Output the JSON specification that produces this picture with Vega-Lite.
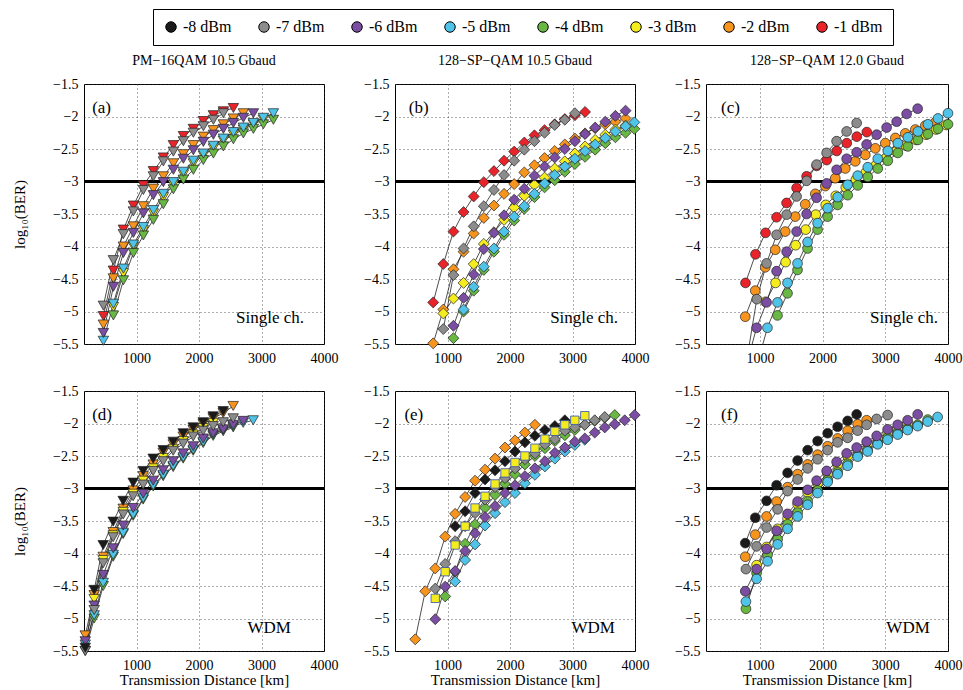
{
"$schema": "https://vega.github.io/schema/vega-lite/v6.json",
"background": "white",
"padding": {"left": 12, "top": 8, "right": 5, "bottom": 5},
"config": {
  "font": "Liberation Serif",
  "view": {"stroke": "black", "strokeWidth": 1},
  "axis": {"labelFont": "Liberation Serif", "labelFontSize": 14, "labelColor": "black", "titleFont": "Liberation Serif", "titleFontWeight": "normal", "titleFontSize": 15, "titleColor": "black", "domain": false, "ticks": false, "gridColor": "#333", "gridDash": [1, 3], "gridWidth": 0.8, "gridOpacity": 1, "labelFlush": false, "labelOverlap": false},
  "axisX": {"labelPadding": 7, "tickCount": 10},
  "axisY": {"labelPadding": 6, "labelOverlap": false, "tickCount": 20},
  "legend": {"labelFont": "Liberation Serif", "labelFontSize": 16, "labelColor": "black"},
  "title": {"font": "Liberation Serif", "fontSize": 14, "fontWeight": "normal", "offset": 9, "anchor": "middle", "color": "black"}
},
"data": {"values": [
{"p":"a","s":"-1 dBm","x":470,"y":-5.07},{"p":"a","s":"-1 dBm","x":630,"y":-4.37},{"p":"a","s":"-1 dBm","x":790,"y":-3.74},{"p":"a","s":"-1 dBm","x":950,"y":-3.37},{"p":"a","s":"-1 dBm","x":1110,"y":-3.06},{"p":"a","s":"-1 dBm","x":1270,"y":-2.84},{"p":"a","s":"-1 dBm","x":1430,"y":-2.63},{"p":"a","s":"-1 dBm","x":1590,"y":-2.44},{"p":"a","s":"-1 dBm","x":1750,"y":-2.30},{"p":"a","s":"-1 dBm","x":1910,"y":-2.19},{"p":"a","s":"-1 dBm","x":2070,"y":-2.07},{"p":"a","s":"-1 dBm","x":2230,"y":-1.98},{"p":"a","s":"-1 dBm","x":2390,"y":-1.92},{"p":"a","s":"-1 dBm","x":2550,"y":-1.87},
{"p":"a","s":"-2 dBm","x":470,"y":-5.20},{"p":"a","s":"-2 dBm","x":630,"y":-4.49},{"p":"a","s":"-2 dBm","x":790,"y":-4.00},{"p":"a","s":"-2 dBm","x":950,"y":-3.69},{"p":"a","s":"-2 dBm","x":1110,"y":-3.38},{"p":"a","s":"-2 dBm","x":1270,"y":-3.11},{"p":"a","s":"-2 dBm","x":1430,"y":-2.92},{"p":"a","s":"-2 dBm","x":1590,"y":-2.72},{"p":"a","s":"-2 dBm","x":1750,"y":-2.58},{"p":"a","s":"-2 dBm","x":1910,"y":-2.44},{"p":"a","s":"-2 dBm","x":2070,"y":-2.31},{"p":"a","s":"-2 dBm","x":2230,"y":-2.21},{"p":"a","s":"-2 dBm","x":2390,"y":-2.12},{"p":"a","s":"-2 dBm","x":2550,"y":-2.03},{"p":"a","s":"-2 dBm","x":2710,"y":-1.95},
{"p":"a","s":"-3 dBm","x":630,"y":-4.93},{"p":"a","s":"-3 dBm","x":790,"y":-4.41},{"p":"a","s":"-3 dBm","x":950,"y":-4.00},{"p":"a","s":"-3 dBm","x":1110,"y":-3.75},{"p":"a","s":"-3 dBm","x":1270,"y":-3.49},{"p":"a","s":"-3 dBm","x":1430,"y":-3.24},{"p":"a","s":"-3 dBm","x":1590,"y":-3.05},{"p":"a","s":"-3 dBm","x":1750,"y":-2.89},{"p":"a","s":"-3 dBm","x":1910,"y":-2.72},{"p":"a","s":"-3 dBm","x":2070,"y":-2.60},{"p":"a","s":"-3 dBm","x":2230,"y":-2.49},{"p":"a","s":"-3 dBm","x":2390,"y":-2.37},{"p":"a","s":"-3 dBm","x":2550,"y":-2.28},{"p":"a","s":"-3 dBm","x":2710,"y":-2.20},{"p":"a","s":"-3 dBm","x":2870,"y":-2.12},{"p":"a","s":"-3 dBm","x":3030,"y":-2.05},
{"p":"a","s":"-4 dBm","x":630,"y":-5.06},{"p":"a","s":"-4 dBm","x":790,"y":-4.52},{"p":"a","s":"-4 dBm","x":950,"y":-4.10},{"p":"a","s":"-4 dBm","x":1110,"y":-3.83},{"p":"a","s":"-4 dBm","x":1270,"y":-3.59},{"p":"a","s":"-4 dBm","x":1430,"y":-3.35},{"p":"a","s":"-4 dBm","x":1590,"y":-3.12},{"p":"a","s":"-4 dBm","x":1750,"y":-2.97},{"p":"a","s":"-4 dBm","x":1910,"y":-2.82},{"p":"a","s":"-4 dBm","x":2070,"y":-2.67},{"p":"a","s":"-4 dBm","x":2230,"y":-2.57},{"p":"a","s":"-4 dBm","x":2390,"y":-2.46},{"p":"a","s":"-4 dBm","x":2550,"y":-2.35},{"p":"a","s":"-4 dBm","x":2710,"y":-2.26},{"p":"a","s":"-4 dBm","x":2870,"y":-2.19},{"p":"a","s":"-4 dBm","x":3030,"y":-2.12},{"p":"a","s":"-4 dBm","x":3190,"y":-2.05},
{"p":"a","s":"-5 dBm","x":470,"y":-5.45},{"p":"a","s":"-5 dBm","x":630,"y":-4.88},{"p":"a","s":"-5 dBm","x":790,"y":-4.34},{"p":"a","s":"-5 dBm","x":950,"y":-3.97},{"p":"a","s":"-5 dBm","x":1110,"y":-3.70},{"p":"a","s":"-5 dBm","x":1270,"y":-3.44},{"p":"a","s":"-5 dBm","x":1430,"y":-3.19},{"p":"a","s":"-5 dBm","x":1590,"y":-3.01},{"p":"a","s":"-5 dBm","x":1750,"y":-2.85},{"p":"a","s":"-5 dBm","x":1910,"y":-2.68},{"p":"a","s":"-5 dBm","x":2070,"y":-2.57},{"p":"a","s":"-5 dBm","x":2230,"y":-2.45},{"p":"a","s":"-5 dBm","x":2390,"y":-2.34},{"p":"a","s":"-5 dBm","x":2550,"y":-2.24},{"p":"a","s":"-5 dBm","x":2710,"y":-2.17},{"p":"a","s":"-5 dBm","x":2870,"y":-2.10},{"p":"a","s":"-5 dBm","x":3030,"y":-2.02},{"p":"a","s":"-5 dBm","x":3190,"y":-1.95},
{"p":"a","s":"-6 dBm","x":470,"y":-5.33},{"p":"a","s":"-6 dBm","x":630,"y":-4.62},{"p":"a","s":"-6 dBm","x":790,"y":-4.10},{"p":"a","s":"-6 dBm","x":950,"y":-3.79},{"p":"a","s":"-6 dBm","x":1110,"y":-3.49},{"p":"a","s":"-6 dBm","x":1270,"y":-3.21},{"p":"a","s":"-6 dBm","x":1430,"y":-3.01},{"p":"a","s":"-6 dBm","x":1590,"y":-2.82},{"p":"a","s":"-6 dBm","x":1750,"y":-2.65},{"p":"a","s":"-6 dBm","x":1910,"y":-2.52},{"p":"a","s":"-6 dBm","x":2070,"y":-2.39},{"p":"a","s":"-6 dBm","x":2230,"y":-2.28},{"p":"a","s":"-6 dBm","x":2390,"y":-2.19},{"p":"a","s":"-6 dBm","x":2550,"y":-2.10},{"p":"a","s":"-6 dBm","x":2710,"y":-2.02},{"p":"a","s":"-6 dBm","x":2870,"y":-1.95},
{"p":"a","s":"-7 dBm","x":470,"y":-4.91},{"p":"a","s":"-7 dBm","x":630,"y":-4.21},{"p":"a","s":"-7 dBm","x":790,"y":-3.81},{"p":"a","s":"-7 dBm","x":950,"y":-3.46},{"p":"a","s":"-7 dBm","x":1110,"y":-3.13},{"p":"a","s":"-7 dBm","x":1270,"y":-2.92},{"p":"a","s":"-7 dBm","x":1430,"y":-2.69},{"p":"a","s":"-7 dBm","x":1590,"y":-2.54},{"p":"a","s":"-7 dBm","x":1750,"y":-2.38},{"p":"a","s":"-7 dBm","x":1910,"y":-2.25},{"p":"a","s":"-7 dBm","x":2070,"y":-2.15},{"p":"a","s":"-7 dBm","x":2230,"y":-2.05},{"p":"a","s":"-7 dBm","x":2390,"y":-1.95},

{"p":"b","s":"-1 dBm","x":771,"y":-4.86},{"p":"b","s":"-1 dBm","x":933,"y":-4.27},{"p":"b","s":"-1 dBm","x":1095,"y":-3.77},{"p":"b","s":"-1 dBm","x":1257,"y":-3.47},{"p":"b","s":"-1 dBm","x":1419,"y":-3.23},{"p":"b","s":"-1 dBm","x":1581,"y":-3.01},{"p":"b","s":"-1 dBm","x":1743,"y":-2.84},{"p":"b","s":"-1 dBm","x":1905,"y":-2.68},{"p":"b","s":"-1 dBm","x":2067,"y":-2.54},{"p":"b","s":"-1 dBm","x":2229,"y":-2.40},{"p":"b","s":"-1 dBm","x":2391,"y":-2.29},{"p":"b","s":"-1 dBm","x":2553,"y":-2.21},{"p":"b","s":"-1 dBm","x":2715,"y":-2.12},{"p":"b","s":"-1 dBm","x":2877,"y":-2.04},{"p":"b","s":"-1 dBm","x":3039,"y":-1.98},{"p":"b","s":"-1 dBm","x":3201,"y":-1.93},
{"p":"b","s":"-2 dBm","x":771,"y":-5.49},{"p":"b","s":"-2 dBm","x":933,"y":-4.97},{"p":"b","s":"-2 dBm","x":1095,"y":-4.35},{"p":"b","s":"-2 dBm","x":1257,"y":-4.08},{"p":"b","s":"-2 dBm","x":1419,"y":-3.80},{"p":"b","s":"-2 dBm","x":1581,"y":-3.56},{"p":"b","s":"-2 dBm","x":1743,"y":-3.37},{"p":"b","s":"-2 dBm","x":1905,"y":-3.19},{"p":"b","s":"-2 dBm","x":2067,"y":-3.04},{"p":"b","s":"-2 dBm","x":2229,"y":-2.86},{"p":"b","s":"-2 dBm","x":2391,"y":-2.75},{"p":"b","s":"-2 dBm","x":2553,"y":-2.64},{"p":"b","s":"-2 dBm","x":2715,"y":-2.53},{"p":"b","s":"-2 dBm","x":2877,"y":-2.43},{"p":"b","s":"-2 dBm","x":3039,"y":-2.34},{"p":"b","s":"-2 dBm","x":3201,"y":-2.26},{"p":"b","s":"-2 dBm","x":3363,"y":-2.18},{"p":"b","s":"-2 dBm","x":3525,"y":-2.12},{"p":"b","s":"-2 dBm","x":3687,"y":-2.08},{"p":"b","s":"-2 dBm","x":3849,"y":-2.03},
{"p":"b","s":"-3 dBm","x":933,"y":-5.03},{"p":"b","s":"-3 dBm","x":1095,"y":-4.80},{"p":"b","s":"-3 dBm","x":1257,"y":-4.56},{"p":"b","s":"-3 dBm","x":1419,"y":-4.27},{"p":"b","s":"-3 dBm","x":1581,"y":-3.96},{"p":"b","s":"-3 dBm","x":1743,"y":-3.78},{"p":"b","s":"-3 dBm","x":1905,"y":-3.59},{"p":"b","s":"-3 dBm","x":2067,"y":-3.40},{"p":"b","s":"-3 dBm","x":2229,"y":-3.22},{"p":"b","s":"-3 dBm","x":2391,"y":-3.05},{"p":"b","s":"-3 dBm","x":2553,"y":-2.94},{"p":"b","s":"-3 dBm","x":2715,"y":-2.80},{"p":"b","s":"-3 dBm","x":2877,"y":-2.69},{"p":"b","s":"-3 dBm","x":3039,"y":-2.57},{"p":"b","s":"-3 dBm","x":3201,"y":-2.46},{"p":"b","s":"-3 dBm","x":3363,"y":-2.36},{"p":"b","s":"-3 dBm","x":3525,"y":-2.28},{"p":"b","s":"-3 dBm","x":3687,"y":-2.20},{"p":"b","s":"-3 dBm","x":3849,"y":-2.14},
{"p":"b","s":"-4 dBm","x":1095,"y":-5.41},{"p":"b","s":"-4 dBm","x":1257,"y":-5.00},{"p":"b","s":"-4 dBm","x":1419,"y":-4.68},{"p":"b","s":"-4 dBm","x":1581,"y":-4.36},{"p":"b","s":"-4 dBm","x":1743,"y":-4.08},{"p":"b","s":"-4 dBm","x":1905,"y":-3.82},{"p":"b","s":"-4 dBm","x":2067,"y":-3.60},{"p":"b","s":"-4 dBm","x":2229,"y":-3.42},{"p":"b","s":"-4 dBm","x":2391,"y":-3.24},{"p":"b","s":"-4 dBm","x":2553,"y":-3.09},{"p":"b","s":"-4 dBm","x":2715,"y":-2.98},{"p":"b","s":"-4 dBm","x":2877,"y":-2.85},{"p":"b","s":"-4 dBm","x":3039,"y":-2.73},{"p":"b","s":"-4 dBm","x":3201,"y":-2.62},{"p":"b","s":"-4 dBm","x":3363,"y":-2.51},{"p":"b","s":"-4 dBm","x":3525,"y":-2.41},{"p":"b","s":"-4 dBm","x":3687,"y":-2.32},{"p":"b","s":"-4 dBm","x":3849,"y":-2.25},{"p":"b","s":"-4 dBm","x":3990,"y":-2.19},
{"p":"b","s":"-5 dBm","x":1257,"y":-4.97},{"p":"b","s":"-5 dBm","x":1419,"y":-4.62},{"p":"b","s":"-5 dBm","x":1581,"y":-4.31},{"p":"b","s":"-5 dBm","x":1743,"y":-4.03},{"p":"b","s":"-5 dBm","x":1905,"y":-3.77},{"p":"b","s":"-5 dBm","x":2067,"y":-3.54},{"p":"b","s":"-5 dBm","x":2229,"y":-3.38},{"p":"b","s":"-5 dBm","x":2391,"y":-3.19},{"p":"b","s":"-5 dBm","x":2553,"y":-3.03},{"p":"b","s":"-5 dBm","x":2715,"y":-2.90},{"p":"b","s":"-5 dBm","x":2877,"y":-2.77},{"p":"b","s":"-5 dBm","x":3039,"y":-2.65},{"p":"b","s":"-5 dBm","x":3201,"y":-2.53},{"p":"b","s":"-5 dBm","x":3363,"y":-2.43},{"p":"b","s":"-5 dBm","x":3525,"y":-2.33},{"p":"b","s":"-5 dBm","x":3687,"y":-2.23},{"p":"b","s":"-5 dBm","x":3849,"y":-2.15},{"p":"b","s":"-5 dBm","x":3990,"y":-2.09},
{"p":"b","s":"-6 dBm","x":1095,"y":-5.22},{"p":"b","s":"-6 dBm","x":1257,"y":-4.79},{"p":"b","s":"-6 dBm","x":1419,"y":-4.43},{"p":"b","s":"-6 dBm","x":1581,"y":-4.04},{"p":"b","s":"-6 dBm","x":1743,"y":-3.79},{"p":"b","s":"-6 dBm","x":1905,"y":-3.52},{"p":"b","s":"-6 dBm","x":2067,"y":-3.28},{"p":"b","s":"-6 dBm","x":2229,"y":-3.11},{"p":"b","s":"-6 dBm","x":2391,"y":-2.91},{"p":"b","s":"-6 dBm","x":2553,"y":-2.77},{"p":"b","s":"-6 dBm","x":2715,"y":-2.63},{"p":"b","s":"-6 dBm","x":2877,"y":-2.50},{"p":"b","s":"-6 dBm","x":3039,"y":-2.38},{"p":"b","s":"-6 dBm","x":3201,"y":-2.27},{"p":"b","s":"-6 dBm","x":3363,"y":-2.17},{"p":"b","s":"-6 dBm","x":3525,"y":-2.08},{"p":"b","s":"-6 dBm","x":3687,"y":-1.99},{"p":"b","s":"-6 dBm","x":3849,"y":-1.91},
{"p":"b","s":"-7 dBm","x":933,"y":-5.27},{"p":"b","s":"-7 dBm","x":1095,"y":-4.44},{"p":"b","s":"-7 dBm","x":1257,"y":-4.03},{"p":"b","s":"-7 dBm","x":1419,"y":-3.69},{"p":"b","s":"-7 dBm","x":1581,"y":-3.38},{"p":"b","s":"-7 dBm","x":1743,"y":-3.13},{"p":"b","s":"-7 dBm","x":1905,"y":-2.90},{"p":"b","s":"-7 dBm","x":2067,"y":-2.68},{"p":"b","s":"-7 dBm","x":2229,"y":-2.51},{"p":"b","s":"-7 dBm","x":2391,"y":-2.38},{"p":"b","s":"-7 dBm","x":2553,"y":-2.25},{"p":"b","s":"-7 dBm","x":2715,"y":-2.13},{"p":"b","s":"-7 dBm","x":2877,"y":-2.05},{"p":"b","s":"-7 dBm","x":3039,"y":-1.95},

{"p":"c","s":"-1 dBm","x":770,"y":-4.56},{"p":"c","s":"-1 dBm","x":930,"y":-4.12},{"p":"c","s":"-1 dBm","x":1090,"y":-3.79},{"p":"c","s":"-1 dBm","x":1265,"y":-3.55},{"p":"c","s":"-1 dBm","x":1425,"y":-3.33},{"p":"c","s":"-1 dBm","x":1585,"y":-3.10},{"p":"c","s":"-1 dBm","x":1745,"y":-2.92},{"p":"c","s":"-1 dBm","x":1905,"y":-2.76},{"p":"c","s":"-1 dBm","x":2065,"y":-2.67},{"p":"c","s":"-1 dBm","x":2225,"y":-2.53},{"p":"c","s":"-1 dBm","x":2385,"y":-2.41},{"p":"c","s":"-1 dBm","x":2545,"y":-2.31},{"p":"c","s":"-1 dBm","x":2705,"y":-2.24},
{"p":"c","s":"-2 dBm","x":766,"y":-5.08},{"p":"c","s":"-2 dBm","x":926,"y":-4.68},{"p":"c","s":"-2 dBm","x":1085,"y":-4.32},{"p":"c","s":"-2 dBm","x":1245,"y":-4.05},{"p":"c","s":"-2 dBm","x":1404,"y":-3.77},{"p":"c","s":"-2 dBm","x":1564,"y":-3.54},{"p":"c","s":"-2 dBm","x":1723,"y":-3.35},{"p":"c","s":"-2 dBm","x":1883,"y":-3.19},{"p":"c","s":"-2 dBm","x":2043,"y":-3.07},{"p":"c","s":"-2 dBm","x":2202,"y":-2.95},{"p":"c","s":"-2 dBm","x":2362,"y":-2.80},{"p":"c","s":"-2 dBm","x":2521,"y":-2.69},{"p":"c","s":"-2 dBm","x":2681,"y":-2.59},{"p":"c","s":"-2 dBm","x":2841,"y":-2.49},{"p":"c","s":"-2 dBm","x":3000,"y":-2.41},{"p":"c","s":"-2 dBm","x":3160,"y":-2.33},{"p":"c","s":"-2 dBm","x":3319,"y":-2.26},{"p":"c","s":"-2 dBm","x":3479,"y":-2.20},{"p":"c","s":"-2 dBm","x":3638,"y":-2.14},{"p":"c","s":"-2 dBm","x":3798,"y":-2.09},
{"p":"c","s":"-3 dBm","x":1090,"y":-4.85},{"p":"c","s":"-3 dBm","x":1250,"y":-4.56},{"p":"c","s":"-3 dBm","x":1410,"y":-4.24},{"p":"c","s":"-3 dBm","x":1570,"y":-3.98},{"p":"c","s":"-3 dBm","x":1730,"y":-3.74},{"p":"c","s":"-3 dBm","x":1890,"y":-3.51},{"p":"c","s":"-3 dBm","x":2050,"y":-3.36},{"p":"c","s":"-3 dBm","x":2210,"y":-3.22},{"p":"c","s":"-3 dBm","x":2370,"y":-3.09},{"p":"c","s":"-3 dBm","x":2530,"y":-2.97},{"p":"c","s":"-3 dBm","x":2690,"y":-2.86},{"p":"c","s":"-3 dBm","x":2850,"y":-2.75},{"p":"c","s":"-3 dBm","x":3010,"y":-2.64},{"p":"c","s":"-3 dBm","x":3170,"y":-2.54},{"p":"c","s":"-3 dBm","x":3330,"y":-2.45},{"p":"c","s":"-3 dBm","x":3490,"y":-2.36},{"p":"c","s":"-3 dBm","x":3650,"y":-2.28},{"p":"c","s":"-3 dBm","x":3810,"y":-2.20},{"p":"c","s":"-3 dBm","x":3970,"y":-2.13},
{"p":"c","s":"-4 dBm","x":1280,"y":-5.06},{"p":"c","s":"-4 dBm","x":1440,"y":-4.72},{"p":"c","s":"-4 dBm","x":1600,"y":-4.36},{"p":"c","s":"-4 dBm","x":1760,"y":-4.03},{"p":"c","s":"-4 dBm","x":1920,"y":-3.74},{"p":"c","s":"-4 dBm","x":2080,"y":-3.54},{"p":"c","s":"-4 dBm","x":2240,"y":-3.36},{"p":"c","s":"-4 dBm","x":2400,"y":-3.21},{"p":"c","s":"-4 dBm","x":2560,"y":-3.06},{"p":"c","s":"-4 dBm","x":2720,"y":-2.93},{"p":"c","s":"-4 dBm","x":2880,"y":-2.80},{"p":"c","s":"-4 dBm","x":3040,"y":-2.68},{"p":"c","s":"-4 dBm","x":3200,"y":-2.56},{"p":"c","s":"-4 dBm","x":3360,"y":-2.46},{"p":"c","s":"-4 dBm","x":3520,"y":-2.36},{"p":"c","s":"-4 dBm","x":3680,"y":-2.27},{"p":"c","s":"-4 dBm","x":3840,"y":-2.19},{"p":"c","s":"-4 dBm","x":4000,"y":-2.12},
{"p":"c","s":"-5 dBm","x":960,"y":-5.8},{"p":"c","s":"-5 dBm","x":1120,"y":-5.25},{"p":"c","s":"-5 dBm","x":1280,"y":-4.86},{"p":"c","s":"-5 dBm","x":1440,"y":-4.56},{"p":"c","s":"-5 dBm","x":1600,"y":-4.26},{"p":"c","s":"-5 dBm","x":1760,"y":-3.93},{"p":"c","s":"-5 dBm","x":1920,"y":-3.64},{"p":"c","s":"-5 dBm","x":2080,"y":-3.41},{"p":"c","s":"-5 dBm","x":2240,"y":-3.24},{"p":"c","s":"-5 dBm","x":2400,"y":-3.05},{"p":"c","s":"-5 dBm","x":2560,"y":-2.91},{"p":"c","s":"-5 dBm","x":2720,"y":-2.78},{"p":"c","s":"-5 dBm","x":2880,"y":-2.65},{"p":"c","s":"-5 dBm","x":3040,"y":-2.53},{"p":"c","s":"-5 dBm","x":3200,"y":-2.41},{"p":"c","s":"-5 dBm","x":3360,"y":-2.32},{"p":"c","s":"-5 dBm","x":3520,"y":-2.23},{"p":"c","s":"-5 dBm","x":3680,"y":-2.12},{"p":"c","s":"-5 dBm","x":3840,"y":-2.03},{"p":"c","s":"-5 dBm","x":4000,"y":-1.95},
{"p":"c","s":"-6 dBm","x":790,"y":-5.8},{"p":"c","s":"-6 dBm","x":947,"y":-5.25},{"p":"c","s":"-6 dBm","x":1106,"y":-4.86},{"p":"c","s":"-6 dBm","x":1266,"y":-4.38},{"p":"c","s":"-6 dBm","x":1426,"y":-4.08},{"p":"c","s":"-6 dBm","x":1585,"y":-3.77},{"p":"c","s":"-6 dBm","x":1745,"y":-3.50},{"p":"c","s":"-6 dBm","x":1904,"y":-3.25},{"p":"c","s":"-6 dBm","x":2064,"y":-3.03},{"p":"c","s":"-6 dBm","x":2223,"y":-2.82},{"p":"c","s":"-6 dBm","x":2383,"y":-2.65},{"p":"c","s":"-6 dBm","x":2543,"y":-2.55},{"p":"c","s":"-6 dBm","x":2702,"y":-2.43},{"p":"c","s":"-6 dBm","x":2862,"y":-2.28},{"p":"c","s":"-6 dBm","x":3021,"y":-2.17},{"p":"c","s":"-6 dBm","x":3181,"y":-2.08},{"p":"c","s":"-6 dBm","x":3340,"y":-1.96},{"p":"c","s":"-6 dBm","x":3516,"y":-1.88},
{"p":"c","s":"-7 dBm","x":790,"y":-5.75},{"p":"c","s":"-7 dBm","x":950,"y":-4.81},{"p":"c","s":"-7 dBm","x":1106,"y":-4.26},{"p":"c","s":"-7 dBm","x":1266,"y":-3.82},{"p":"c","s":"-7 dBm","x":1426,"y":-3.51},{"p":"c","s":"-7 dBm","x":1585,"y":-3.23},{"p":"c","s":"-7 dBm","x":1745,"y":-2.99},{"p":"c","s":"-7 dBm","x":1904,"y":-2.74},{"p":"c","s":"-7 dBm","x":2064,"y":-2.56},{"p":"c","s":"-7 dBm","x":2223,"y":-2.38},{"p":"c","s":"-7 dBm","x":2383,"y":-2.23},{"p":"c","s":"-7 dBm","x":2543,"y":-2.10},

{"p":"d","s":"-2 dBm","x":180,"y":-5.26},{"p":"d","s":"-2 dBm","x":323,"y":-4.64},{"p":"d","s":"-2 dBm","x":467,"y":-4.05},{"p":"d","s":"-2 dBm","x":627,"y":-3.67},{"p":"d","s":"-2 dBm","x":787,"y":-3.31},{"p":"d","s":"-2 dBm","x":947,"y":-3.03},{"p":"d","s":"-2 dBm","x":1107,"y":-2.81},{"p":"d","s":"-2 dBm","x":1267,"y":-2.63},{"p":"d","s":"-2 dBm","x":1427,"y":-2.45},{"p":"d","s":"-2 dBm","x":1587,"y":-2.32},{"p":"d","s":"-2 dBm","x":1747,"y":-2.20},{"p":"d","s":"-2 dBm","x":1907,"y":-2.10},{"p":"d","s":"-2 dBm","x":2067,"y":-2.01},{"p":"d","s":"-2 dBm","x":2227,"y":-1.92},{"p":"d","s":"-2 dBm","x":2387,"y":-1.84},{"p":"d","s":"-2 dBm","x":2547,"y":-1.73},
{"p":"d","s":"-3 dBm","x":323,"y":-4.70},{"p":"d","s":"-3 dBm","x":467,"y":-4.10},{"p":"d","s":"-3 dBm","x":627,"y":-3.72},{"p":"d","s":"-3 dBm","x":787,"y":-3.36},{"p":"d","s":"-3 dBm","x":947,"y":-3.08},{"p":"d","s":"-3 dBm","x":1107,"y":-2.88},{"p":"d","s":"-3 dBm","x":1267,"y":-2.69},{"p":"d","s":"-3 dBm","x":1427,"y":-2.53},{"p":"d","s":"-3 dBm","x":1587,"y":-2.39},{"p":"d","s":"-3 dBm","x":1747,"y":-2.27},{"p":"d","s":"-3 dBm","x":1907,"y":-2.17},{"p":"d","s":"-3 dBm","x":2067,"y":-2.07},{"p":"d","s":"-3 dBm","x":2227,"y":-1.99},
{"p":"d","s":"-4 dBm","x":180,"y":-5.50},{"p":"d","s":"-4 dBm","x":323,"y":-5.00},{"p":"d","s":"-4 dBm","x":467,"y":-4.50},{"p":"d","s":"-4 dBm","x":627,"y":-4.05},{"p":"d","s":"-4 dBm","x":787,"y":-3.70},{"p":"d","s":"-4 dBm","x":947,"y":-3.42},{"p":"d","s":"-4 dBm","x":1107,"y":-3.17},{"p":"d","s":"-4 dBm","x":1267,"y":-2.97},{"p":"d","s":"-4 dBm","x":1427,"y":-2.81},{"p":"d","s":"-4 dBm","x":1587,"y":-2.67},{"p":"d","s":"-4 dBm","x":1747,"y":-2.54},{"p":"d","s":"-4 dBm","x":1907,"y":-2.42},{"p":"d","s":"-4 dBm","x":2067,"y":-2.30},{"p":"d","s":"-4 dBm","x":2227,"y":-2.19},{"p":"d","s":"-4 dBm","x":2387,"y":-2.12},{"p":"d","s":"-4 dBm","x":2547,"y":-2.06},
{"p":"d","s":"-5 dBm","x":180,"y":-5.40},{"p":"d","s":"-5 dBm","x":323,"y":-4.95},{"p":"d","s":"-5 dBm","x":467,"y":-4.45},{"p":"d","s":"-5 dBm","x":627,"y":-4.02},{"p":"d","s":"-5 dBm","x":787,"y":-3.68},{"p":"d","s":"-5 dBm","x":947,"y":-3.40},{"p":"d","s":"-5 dBm","x":1107,"y":-3.15},{"p":"d","s":"-5 dBm","x":1267,"y":-2.95},{"p":"d","s":"-5 dBm","x":1427,"y":-2.79},{"p":"d","s":"-5 dBm","x":1587,"y":-2.65},{"p":"d","s":"-5 dBm","x":1747,"y":-2.52},{"p":"d","s":"-5 dBm","x":1907,"y":-2.40},{"p":"d","s":"-5 dBm","x":2067,"y":-2.28},{"p":"d","s":"-5 dBm","x":2227,"y":-2.17},{"p":"d","s":"-5 dBm","x":2387,"y":-2.10},{"p":"d","s":"-5 dBm","x":2547,"y":-2.04},{"p":"d","s":"-5 dBm","x":2707,"y":-1.99},{"p":"d","s":"-5 dBm","x":2867,"y":-1.95},
{"p":"d","s":"-6 dBm","x":180,"y":-5.35},{"p":"d","s":"-6 dBm","x":323,"y":-4.80},{"p":"d","s":"-6 dBm","x":467,"y":-4.33},{"p":"d","s":"-6 dBm","x":627,"y":-3.92},{"p":"d","s":"-6 dBm","x":787,"y":-3.57},{"p":"d","s":"-6 dBm","x":947,"y":-3.30},{"p":"d","s":"-6 dBm","x":1107,"y":-3.08},{"p":"d","s":"-6 dBm","x":1267,"y":-2.88},{"p":"d","s":"-6 dBm","x":1427,"y":-2.72},{"p":"d","s":"-6 dBm","x":1587,"y":-2.58},{"p":"d","s":"-6 dBm","x":1747,"y":-2.46},{"p":"d","s":"-6 dBm","x":1907,"y":-2.35},{"p":"d","s":"-6 dBm","x":2067,"y":-2.23},{"p":"d","s":"-6 dBm","x":2227,"y":-2.15},{"p":"d","s":"-6 dBm","x":2387,"y":-2.09},{"p":"d","s":"-6 dBm","x":2547,"y":-2.02},{"p":"d","s":"-6 dBm","x":2707,"y":-1.96},
{"p":"d","s":"-7 dBm","x":180,"y":-5.50},{"p":"d","s":"-7 dBm","x":323,"y":-4.87},{"p":"d","s":"-7 dBm","x":467,"y":-4.15},{"p":"d","s":"-7 dBm","x":627,"y":-3.75},{"p":"d","s":"-7 dBm","x":787,"y":-3.40},{"p":"d","s":"-7 dBm","x":947,"y":-3.12},{"p":"d","s":"-7 dBm","x":1107,"y":-2.94},{"p":"d","s":"-7 dBm","x":1267,"y":-2.73},{"p":"d","s":"-7 dBm","x":1427,"y":-2.58},{"p":"d","s":"-7 dBm","x":1587,"y":-2.42},{"p":"d","s":"-7 dBm","x":1747,"y":-2.31},{"p":"d","s":"-7 dBm","x":1907,"y":-2.20},{"p":"d","s":"-7 dBm","x":2067,"y":-2.11},{"p":"d","s":"-7 dBm","x":2227,"y":-2.04},{"p":"d","s":"-7 dBm","x":2387,"y":-1.98},{"p":"d","s":"-7 dBm","x":2547,"y":-1.92},
{"p":"d","s":"-8 dBm","x":180,"y":-5.45},{"p":"d","s":"-8 dBm","x":323,"y":-4.56},{"p":"d","s":"-8 dBm","x":467,"y":-3.87},{"p":"d","s":"-8 dBm","x":627,"y":-3.51},{"p":"d","s":"-8 dBm","x":787,"y":-3.19},{"p":"d","s":"-8 dBm","x":947,"y":-2.91},{"p":"d","s":"-8 dBm","x":1107,"y":-2.73},{"p":"d","s":"-8 dBm","x":1267,"y":-2.54},{"p":"d","s":"-8 dBm","x":1427,"y":-2.41},{"p":"d","s":"-8 dBm","x":1587,"y":-2.28},{"p":"d","s":"-8 dBm","x":1747,"y":-2.15},{"p":"d","s":"-8 dBm","x":1907,"y":-2.06},{"p":"d","s":"-8 dBm","x":2067,"y":-1.98},{"p":"d","s":"-8 dBm","x":2227,"y":-1.89},{"p":"d","s":"-8 dBm","x":2387,"y":-1.81},

{"p":"e","s":"-2 dBm","x":484,"y":-5.32},{"p":"e","s":"-2 dBm","x":644,"y":-4.58},{"p":"e","s":"-2 dBm","x":804,"y":-4.23},{"p":"e","s":"-2 dBm","x":963,"y":-3.74},{"p":"e","s":"-2 dBm","x":1122,"y":-3.39},{"p":"e","s":"-2 dBm","x":1282,"y":-3.13},{"p":"e","s":"-2 dBm","x":1441,"y":-2.88},{"p":"e","s":"-2 dBm","x":1601,"y":-2.71},{"p":"e","s":"-2 dBm","x":1761,"y":-2.54},{"p":"e","s":"-2 dBm","x":1920,"y":-2.37},{"p":"e","s":"-2 dBm","x":2080,"y":-2.26},{"p":"e","s":"-2 dBm","x":2239,"y":-2.14},{"p":"e","s":"-2 dBm","x":2399,"y":-2.02},
{"p":"e","s":"-3 dBm","x":804,"y":-4.69},{"p":"e","s":"-3 dBm","x":963,"y":-4.28},{"p":"e","s":"-3 dBm","x":1122,"y":-3.87},{"p":"e","s":"-3 dBm","x":1282,"y":-3.58},{"p":"e","s":"-3 dBm","x":1441,"y":-3.30},{"p":"e","s":"-3 dBm","x":1601,"y":-3.12},{"p":"e","s":"-3 dBm","x":1761,"y":-2.93},{"p":"e","s":"-3 dBm","x":1920,"y":-2.76},{"p":"e","s":"-3 dBm","x":2080,"y":-2.60},{"p":"e","s":"-3 dBm","x":2239,"y":-2.50},{"p":"e","s":"-3 dBm","x":2399,"y":-2.38},{"p":"e","s":"-3 dBm","x":2559,"y":-2.24},{"p":"e","s":"-3 dBm","x":2718,"y":-2.12},{"p":"e","s":"-3 dBm","x":2878,"y":-2.02},{"p":"e","s":"-3 dBm","x":3037,"y":-1.95},{"p":"e","s":"-3 dBm","x":3197,"y":-1.88},
{"p":"e","s":"-4 dBm","x":963,"y":-4.66},{"p":"e","s":"-4 dBm","x":1122,"y":-4.28},{"p":"e","s":"-4 dBm","x":1282,"y":-3.85},{"p":"e","s":"-4 dBm","x":1441,"y":-3.55},{"p":"e","s":"-4 dBm","x":1601,"y":-3.30},{"p":"e","s":"-4 dBm","x":1761,"y":-3.10},{"p":"e","s":"-4 dBm","x":1920,"y":-2.93},{"p":"e","s":"-4 dBm","x":2080,"y":-2.78},{"p":"e","s":"-4 dBm","x":2239,"y":-2.63},{"p":"e","s":"-4 dBm","x":2399,"y":-2.50},{"p":"e","s":"-4 dBm","x":2559,"y":-2.38},{"p":"e","s":"-4 dBm","x":2718,"y":-2.27},{"p":"e","s":"-4 dBm","x":2878,"y":-2.18},{"p":"e","s":"-4 dBm","x":3037,"y":-2.10},{"p":"e","s":"-4 dBm","x":3197,"y":-2.02},{"p":"e","s":"-4 dBm","x":3356,"y":-1.96},{"p":"e","s":"-4 dBm","x":3516,"y":-1.91},{"p":"e","s":"-4 dBm","x":3676,"y":-1.87},
{"p":"e","s":"-5 dBm","x":1122,"y":-4.43},{"p":"e","s":"-5 dBm","x":1282,"y":-4.10},{"p":"e","s":"-5 dBm","x":1441,"y":-3.86},{"p":"e","s":"-5 dBm","x":1601,"y":-3.57},{"p":"e","s":"-5 dBm","x":1761,"y":-3.38},{"p":"e","s":"-5 dBm","x":1920,"y":-3.21},{"p":"e","s":"-5 dBm","x":2080,"y":-3.07},{"p":"e","s":"-5 dBm","x":2239,"y":-2.92},{"p":"e","s":"-5 dBm","x":2399,"y":-2.79},{"p":"e","s":"-5 dBm","x":2559,"y":-2.66},{"p":"e","s":"-5 dBm","x":2718,"y":-2.54},{"p":"e","s":"-5 dBm","x":2878,"y":-2.43},{"p":"e","s":"-5 dBm","x":3037,"y":-2.33},{"p":"e","s":"-5 dBm","x":3197,"y":-2.25},
{"p":"e","s":"-6 dBm","x":804,"y":-5.01},{"p":"e","s":"-6 dBm","x":963,"y":-4.51},{"p":"e","s":"-6 dBm","x":1122,"y":-4.27},{"p":"e","s":"-6 dBm","x":1282,"y":-3.96},{"p":"e","s":"-6 dBm","x":1441,"y":-3.69},{"p":"e","s":"-6 dBm","x":1601,"y":-3.44},{"p":"e","s":"-6 dBm","x":1761,"y":-3.27},{"p":"e","s":"-6 dBm","x":1920,"y":-3.07},{"p":"e","s":"-6 dBm","x":2080,"y":-2.95},{"p":"e","s":"-6 dBm","x":2239,"y":-2.81},{"p":"e","s":"-6 dBm","x":2399,"y":-2.69},{"p":"e","s":"-6 dBm","x":2559,"y":-2.58},{"p":"e","s":"-6 dBm","x":2718,"y":-2.45},{"p":"e","s":"-6 dBm","x":2878,"y":-2.37},{"p":"e","s":"-6 dBm","x":3037,"y":-2.28},{"p":"e","s":"-6 dBm","x":3197,"y":-2.23},{"p":"e","s":"-6 dBm","x":3356,"y":-2.14},{"p":"e","s":"-6 dBm","x":3516,"y":-2.06},{"p":"e","s":"-6 dBm","x":3676,"y":-2.01},{"p":"e","s":"-6 dBm","x":3835,"y":-1.95},{"p":"e","s":"-6 dBm","x":3995,"y":-1.87},
{"p":"e","s":"-7 dBm","x":804,"y":-4.54},{"p":"e","s":"-7 dBm","x":963,"y":-4.16},{"p":"e","s":"-7 dBm","x":1122,"y":-3.81},{"p":"e","s":"-7 dBm","x":1282,"y":-3.58},{"p":"e","s":"-7 dBm","x":1441,"y":-3.38},{"p":"e","s":"-7 dBm","x":1601,"y":-3.17},{"p":"e","s":"-7 dBm","x":1761,"y":-2.98},{"p":"e","s":"-7 dBm","x":1920,"y":-2.84},{"p":"e","s":"-7 dBm","x":2080,"y":-2.69},{"p":"e","s":"-7 dBm","x":2239,"y":-2.55},{"p":"e","s":"-7 dBm","x":2399,"y":-2.46},{"p":"e","s":"-7 dBm","x":2559,"y":-2.32},{"p":"e","s":"-7 dBm","x":2718,"y":-2.24},{"p":"e","s":"-7 dBm","x":2878,"y":-2.11},{"p":"e","s":"-7 dBm","x":3037,"y":-2.06},{"p":"e","s":"-7 dBm","x":3197,"y":-2.02},{"p":"e","s":"-7 dBm","x":3356,"y":-1.95},{"p":"e","s":"-7 dBm","x":3516,"y":-1.90},
{"p":"e","s":"-8 dBm","x":1122,"y":-3.58},{"p":"e","s":"-8 dBm","x":1282,"y":-3.35},{"p":"e","s":"-8 dBm","x":1441,"y":-3.07},{"p":"e","s":"-8 dBm","x":1601,"y":-2.86},{"p":"e","s":"-8 dBm","x":1761,"y":-2.72},{"p":"e","s":"-8 dBm","x":1920,"y":-2.58},{"p":"e","s":"-8 dBm","x":2080,"y":-2.43},{"p":"e","s":"-8 dBm","x":2239,"y":-2.29},{"p":"e","s":"-8 dBm","x":2399,"y":-2.19},{"p":"e","s":"-8 dBm","x":2559,"y":-2.10},{"p":"e","s":"-8 dBm","x":2718,"y":-2.04},{"p":"e","s":"-8 dBm","x":2878,"y":-1.95},

{"p":"f","s":"-2 dBm","x":766,"y":-4.05},{"p":"f","s":"-2 dBm","x":926,"y":-3.71},{"p":"f","s":"-2 dBm","x":1106,"y":-3.43},{"p":"f","s":"-2 dBm","x":1266,"y":-3.20},{"p":"f","s":"-2 dBm","x":1441,"y":-2.98},{"p":"f","s":"-2 dBm","x":1601,"y":-2.78},{"p":"f","s":"-2 dBm","x":1761,"y":-2.63},{"p":"f","s":"-2 dBm","x":1920,"y":-2.48},{"p":"f","s":"-2 dBm","x":2080,"y":-2.35},{"p":"f","s":"-2 dBm","x":2239,"y":-2.23},{"p":"f","s":"-2 dBm","x":2399,"y":-2.11},{"p":"f","s":"-2 dBm","x":2559,"y":-2.01},{"p":"f","s":"-2 dBm","x":2702,"y":-1.95},
{"p":"f","s":"-3 dBm","x":947,"y":-4.18},{"p":"f","s":"-3 dBm","x":1106,"y":-3.90},{"p":"f","s":"-3 dBm","x":1282,"y":-3.62},{"p":"f","s":"-3 dBm","x":1441,"y":-3.46},{"p":"f","s":"-3 dBm","x":1601,"y":-3.24},{"p":"f","s":"-3 dBm","x":1761,"y":-3.06},{"p":"f","s":"-3 dBm","x":1920,"y":-2.92},{"p":"f","s":"-3 dBm","x":2080,"y":-2.77},{"p":"f","s":"-3 dBm","x":2239,"y":-2.63},{"p":"f","s":"-3 dBm","x":2399,"y":-2.50},{"p":"f","s":"-3 dBm","x":2559,"y":-2.40},{"p":"f","s":"-3 dBm","x":2718,"y":-2.31},{"p":"f","s":"-3 dBm","x":2878,"y":-2.22},{"p":"f","s":"-3 dBm","x":3037,"y":-2.14},{"p":"f","s":"-3 dBm","x":3197,"y":-2.07},{"p":"f","s":"-3 dBm","x":3356,"y":-2.00},
{"p":"f","s":"-4 dBm","x":777,"y":-4.85},{"p":"f","s":"-4 dBm","x":947,"y":-4.30},{"p":"f","s":"-4 dBm","x":1122,"y":-4.02},{"p":"f","s":"-4 dBm","x":1282,"y":-3.78},{"p":"f","s":"-4 dBm","x":1441,"y":-3.55},{"p":"f","s":"-4 dBm","x":1601,"y":-3.37},{"p":"f","s":"-4 dBm","x":1761,"y":-3.20},{"p":"f","s":"-4 dBm","x":1920,"y":-3.03},{"p":"f","s":"-4 dBm","x":2080,"y":-2.87},{"p":"f","s":"-4 dBm","x":2239,"y":-2.75},{"p":"f","s":"-4 dBm","x":2399,"y":-2.62},{"p":"f","s":"-4 dBm","x":2559,"y":-2.49},{"p":"f","s":"-4 dBm","x":2718,"y":-2.41},{"p":"f","s":"-4 dBm","x":2878,"y":-2.30},{"p":"f","s":"-4 dBm","x":3037,"y":-2.22},{"p":"f","s":"-4 dBm","x":3197,"y":-2.15},{"p":"f","s":"-4 dBm","x":3356,"y":-2.08},{"p":"f","s":"-4 dBm","x":3516,"y":-2.02},{"p":"f","s":"-4 dBm","x":3676,"y":-1.94},
{"p":"f","s":"-5 dBm","x":777,"y":-4.74},{"p":"f","s":"-5 dBm","x":947,"y":-4.39},{"p":"f","s":"-5 dBm","x":1122,"y":-4.12},{"p":"f","s":"-5 dBm","x":1282,"y":-3.86},{"p":"f","s":"-5 dBm","x":1441,"y":-3.62},{"p":"f","s":"-5 dBm","x":1601,"y":-3.43},{"p":"f","s":"-5 dBm","x":1761,"y":-3.25},{"p":"f","s":"-5 dBm","x":1920,"y":-3.07},{"p":"f","s":"-5 dBm","x":2080,"y":-2.90},{"p":"f","s":"-5 dBm","x":2239,"y":-2.78},{"p":"f","s":"-5 dBm","x":2399,"y":-2.65},{"p":"f","s":"-5 dBm","x":2559,"y":-2.51},{"p":"f","s":"-5 dBm","x":2718,"y":-2.43},{"p":"f","s":"-5 dBm","x":2878,"y":-2.32},{"p":"f","s":"-5 dBm","x":3037,"y":-2.25},{"p":"f","s":"-5 dBm","x":3197,"y":-2.17},{"p":"f","s":"-5 dBm","x":3356,"y":-2.10},{"p":"f","s":"-5 dBm","x":3516,"y":-2.04},{"p":"f","s":"-5 dBm","x":3676,"y":-1.97},{"p":"f","s":"-5 dBm","x":3835,"y":-1.90},
{"p":"f","s":"-6 dBm","x":766,"y":-4.58},{"p":"f","s":"-6 dBm","x":947,"y":-4.24},{"p":"f","s":"-6 dBm","x":1106,"y":-3.93},{"p":"f","s":"-6 dBm","x":1266,"y":-3.65},{"p":"f","s":"-6 dBm","x":1441,"y":-3.39},{"p":"f","s":"-6 dBm","x":1601,"y":-3.20},{"p":"f","s":"-6 dBm","x":1761,"y":-3.02},{"p":"f","s":"-6 dBm","x":1904,"y":-2.88},{"p":"f","s":"-6 dBm","x":2064,"y":-2.73},{"p":"f","s":"-6 dBm","x":2223,"y":-2.59},{"p":"f","s":"-6 dBm","x":2383,"y":-2.46},{"p":"f","s":"-6 dBm","x":2543,"y":-2.37},{"p":"f","s":"-6 dBm","x":2702,"y":-2.28},{"p":"f","s":"-6 dBm","x":2862,"y":-2.19},{"p":"f","s":"-6 dBm","x":3037,"y":-2.09},{"p":"f","s":"-6 dBm","x":3197,"y":-2.02},{"p":"f","s":"-6 dBm","x":3356,"y":-1.95},{"p":"f","s":"-6 dBm","x":3516,"y":-1.86},
{"p":"f","s":"-7 dBm","x":777,"y":-4.24},{"p":"f","s":"-7 dBm","x":947,"y":-3.89},{"p":"f","s":"-7 dBm","x":1106,"y":-3.60},{"p":"f","s":"-7 dBm","x":1282,"y":-3.32},{"p":"f","s":"-7 dBm","x":1441,"y":-3.04},{"p":"f","s":"-7 dBm","x":1601,"y":-2.86},{"p":"f","s":"-7 dBm","x":1761,"y":-2.69},{"p":"f","s":"-7 dBm","x":1920,"y":-2.55},{"p":"f","s":"-7 dBm","x":2080,"y":-2.41},{"p":"f","s":"-7 dBm","x":2239,"y":-2.29},{"p":"f","s":"-7 dBm","x":2399,"y":-2.22},{"p":"f","s":"-7 dBm","x":2559,"y":-2.11},{"p":"f","s":"-7 dBm","x":2702,"y":-2.02},{"p":"f","s":"-7 dBm","x":2862,"y":-1.93},{"p":"f","s":"-7 dBm","x":3037,"y":-1.87},
{"p":"f","s":"-8 dBm","x":766,"y":-3.84},{"p":"f","s":"-8 dBm","x":926,"y":-3.45},{"p":"f","s":"-8 dBm","x":1106,"y":-3.19},{"p":"f","s":"-8 dBm","x":1266,"y":-2.95},{"p":"f","s":"-8 dBm","x":1441,"y":-2.76},{"p":"f","s":"-8 dBm","x":1601,"y":-2.57},{"p":"f","s":"-8 dBm","x":1761,"y":-2.41},{"p":"f","s":"-8 dBm","x":1920,"y":-2.27},{"p":"f","s":"-8 dBm","x":2080,"y":-2.15},{"p":"f","s":"-8 dBm","x":2239,"y":-2.05},{"p":"f","s":"-8 dBm","x":2399,"y":-1.96},{"p":"f","s":"-8 dBm","x":2543,"y":-1.86}
]},
"spacing": 17,
"vconcat": [
{"hconcat": [
 {"width": 240, "height": 260, "title": {"text": "PM−16QAM 10.5 Gbaud"},
  "layer": [
   {"transform": [{"filter": "datum.p == 'a'"}], "mark": {"type": "line", "clip": true, "color": "#222", "strokeWidth": 0.8},
    "encoding": {"x": {"field": "x", "type": "quantitative", "scale": {"domain": [160, 4000], "nice": false, "zero": false}, "axis": {"values": [1000, 2000, 3000, 4000], "format": "d", "title": null, "grid": true}},
                 "y": {"field": "y", "type": "quantitative", "scale": {"domain": [-5.5, -1.5], "nice": false, "zero": false}, "axis": {"values": [-5.5, -5, -4.5, -4, -3.5, -3, -2.5, -2, -1.5], "tickCount": 20, "format": "~g", "labelOverlap": false, "title": "log₁₀(BER)", "titlePadding": 25, "grid": true}},
                 "detail": {"field": "s"}}},
   {"data": {"values": [{}]}, "mark": {"type": "rule", "color": "black", "strokeWidth": 3}, "encoding": {"y": {"datum": -3}}},
   {"transform": [{"filter": "datum.p == 'a' && datum.y >= -5.52"}], "mark": {"type": "point", "shape": "triangle-down", "filled": true, "size": 110, "stroke": "#222", "strokeWidth": 0.7, "opacity": 1},
    "encoding": {"x": {"field": "x", "type": "quantitative"}, "y": {"field": "y", "type": "quantitative"},
                 "color": {"field": "s", "type": "nominal", "scale": {"domain": ["-8 dBm", "-7 dBm", "-6 dBm", "-5 dBm", "-4 dBm", "-3 dBm", "-2 dBm", "-1 dBm"], "range": ["#1a1a1a", "#8c8c8c", "#7b4ea3", "#4fc3e8", "#68b843", "#f4ec1e", "#f7941e", "#e8232a"]},
                           "legend": {"orient": "none", "legendX": 69, "legendY": -75, "direction": "horizontal", "columns": 8, "title": null, "symbolType": "circle", "symbolSize": 110, "symbolStrokeColor": "black", "symbolStrokeWidth": 1, "labelFont": "Liberation Serif", "labelFontSize": 16, "labelColor": "black", "strokeColor": "black", "padding": 10, "columnPadding": 24, "fillColor": "white",
                                      "encode": {"legend": {"update": {"strokeWidth": {"value": 1.5}}}, "labels": {"update": {"font": {"value": "Liberation Serif"}}}}}}}},
   {"data": {"values": [{}]}, "mark": {"type": "text", "fontSize": 17, "align": "left", "baseline": "middle", "font": "Liberation Serif"}, "encoding": {"x": {"datum": 290}, "y": {"datum": -1.87}, "text": {"value": "(a)"}}},
   {"data": {"values": [{}]}, "mark": {"type": "text", "fontSize": 17, "align": "right", "baseline": "middle", "font": "Liberation Serif"}, "encoding": {"x": {"datum": 3680}, "y": {"datum": -5.1}, "text": {"value": "Single ch."}}}
  ]},
 {"width": 240, "height": 260, "title": {"text": "128−SP−QAM 10.5 Gbaud"},
  "layer": [
   {"transform": [{"filter": "datum.p == 'b'"}], "mark": {"type": "line", "clip": true, "color": "#222", "strokeWidth": 0.8},
    "encoding": {"x": {"field": "x", "type": "quantitative", "scale": {"domain": [160, 4000], "nice": false, "zero": false}, "axis": {"values": [1000, 2000, 3000, 4000], "format": "d", "title": null, "grid": true}},
                 "y": {"field": "y", "type": "quantitative", "scale": {"domain": [-5.5, -1.5], "nice": false, "zero": false}, "axis": {"values": [-5.5, -5, -4.5, -4, -3.5, -3, -2.5, -2, -1.5], "tickCount": 20, "format": "~g", "labelOverlap": false, "title": null, "grid": true}},
                 "detail": {"field": "s"}}},
   {"data": {"values": [{}]}, "mark": {"type": "rule", "color": "black", "strokeWidth": 3}, "encoding": {"y": {"datum": -3}}},
   {"transform": [{"filter": "datum.p == 'b' && datum.y >= -5.52"}], "mark": {"type": "point", "shape": "diamond", "filled": true, "size": 120, "stroke": "#222", "strokeWidth": 0.7, "opacity": 1},
    "encoding": {"x": {"field": "x", "type": "quantitative"}, "y": {"field": "y", "type": "quantitative"}, "color": {"field": "s", "type": "nominal"}}},
   {"data": {"values": [{}]}, "mark": {"type": "text", "fontSize": 17, "align": "left", "baseline": "middle", "font": "Liberation Serif"}, "encoding": {"x": {"datum": 380}, "y": {"datum": -1.87}, "text": {"value": "(b)"}}},
   {"data": {"values": [{}]}, "mark": {"type": "text", "fontSize": 17, "align": "right", "baseline": "middle", "font": "Liberation Serif"}, "encoding": {"x": {"datum": 3730}, "y": {"datum": -5.1}, "text": {"value": "Single ch."}}}
  ]},
 {"width": 242, "height": 260, "title": {"text": "128−SP−QAM 12.0 Gbaud"},
  "layer": [
   {"transform": [{"filter": "datum.p == 'c'"}], "mark": {"type": "line", "clip": true, "color": "#222", "strokeWidth": 0.8},
    "encoding": {"x": {"field": "x", "type": "quantitative", "scale": {"domain": [140, 4000], "nice": false, "zero": false}, "axis": {"values": [1000, 2000, 3000, 4000], "format": "d", "title": null, "grid": true}},
                 "y": {"field": "y", "type": "quantitative", "scale": {"domain": [-5.5, -1.5], "nice": false, "zero": false}, "axis": {"values": [-5.5, -5, -4.5, -4, -3.5, -3, -2.5, -2, -1.5], "tickCount": 20, "format": "~g", "labelOverlap": false, "title": null, "grid": true}},
                 "detail": {"field": "s"}}},
   {"data": {"values": [{}]}, "mark": {"type": "rule", "color": "black", "strokeWidth": 3}, "encoding": {"y": {"datum": -3}}},
   {"transform": [{"filter": "datum.p == 'c' && datum.y >= -5.52"}], "mark": {"type": "point", "shape": "circle", "filled": true, "size": 95, "stroke": "#222", "strokeWidth": 0.7, "opacity": 1},
    "encoding": {"x": {"field": "x", "type": "quantitative"}, "y": {"field": "y", "type": "quantitative"}, "color": {"field": "s", "type": "nominal"}}},
   {"data": {"values": [{}]}, "mark": {"type": "text", "fontSize": 17, "align": "left", "baseline": "middle", "font": "Liberation Serif"}, "encoding": {"x": {"datum": 380}, "y": {"datum": -1.87}, "text": {"value": "(c)"}}},
   {"data": {"values": [{}]}, "mark": {"type": "text", "fontSize": 17, "align": "right", "baseline": "middle", "font": "Liberation Serif"}, "encoding": {"x": {"datum": 3840}, "y": {"datum": -5.1}, "text": {"value": "Single ch."}}}
  ]}
], "spacing": 71, "bounds": "flush"},
{"hconcat": [
 {"width": 240, "height": 260,
  "layer": [
   {"transform": [{"filter": "datum.p == 'd'"}], "mark": {"type": "line", "clip": true, "color": "#222", "strokeWidth": 0.8},
    "encoding": {"x": {"field": "x", "type": "quantitative", "scale": {"domain": [160, 4000], "nice": false, "zero": false}, "axis": {"values": [1000, 2000, 3000, 4000], "format": "d", "title": "Transmission Distance [km]", "titlePadding": 0, "grid": true}},
                 "y": {"field": "y", "type": "quantitative", "scale": {"domain": [-5.5, -1.5], "nice": false, "zero": false}, "axis": {"values": [-5.5, -5, -4.5, -4, -3.5, -3, -2.5, -2, -1.5], "tickCount": 20, "format": "~g", "labelOverlap": false, "title": "log₁₀(BER)", "titlePadding": 25, "grid": true}},
                 "detail": {"field": "s"}}},
   {"data": {"values": [{}]}, "mark": {"type": "rule", "color": "black", "strokeWidth": 3}, "encoding": {"y": {"datum": -3}}},
   {"transform": [{"filter": "datum.p == 'd' && datum.y >= -5.52"}], "mark": {"type": "point", "shape": "triangle-down", "filled": true, "size": 110, "stroke": "#222", "strokeWidth": 0.7, "opacity": 1},
    "encoding": {"x": {"field": "x", "type": "quantitative"}, "y": {"field": "y", "type": "quantitative"}, "color": {"field": "s", "type": "nominal"}}},
   {"data": {"values": [{}]}, "mark": {"type": "text", "fontSize": 17, "align": "left", "baseline": "middle", "font": "Liberation Serif"}, "encoding": {"x": {"datum": 290}, "y": {"datum": -1.87}, "text": {"value": "(d)"}}},
   {"data": {"values": [{}]}, "mark": {"type": "text", "fontSize": 17, "align": "right", "baseline": "middle", "font": "Liberation Serif"}, "encoding": {"x": {"datum": 3470}, "y": {"datum": -5.15}, "text": {"value": "WDM"}}}
  ]},
 {"width": 240, "height": 260,
  "layer": [
   {"transform": [{"filter": "datum.p == 'e'"}], "mark": {"type": "line", "clip": true, "color": "#222", "strokeWidth": 0.8},
    "encoding": {"x": {"field": "x", "type": "quantitative", "scale": {"domain": [160, 4000], "nice": false, "zero": false}, "axis": {"values": [1000, 2000, 3000, 4000], "format": "d", "title": "Transmission Distance [km]", "titlePadding": 0, "grid": true}},
                 "y": {"field": "y", "type": "quantitative", "scale": {"domain": [-5.5, -1.5], "nice": false, "zero": false}, "axis": {"values": [-5.5, -5, -4.5, -4, -3.5, -3, -2.5, -2, -1.5], "tickCount": 20, "format": "~g", "labelOverlap": false, "title": null, "grid": true}},
                 "detail": {"field": "s"}}},
   {"data": {"values": [{}]}, "mark": {"type": "rule", "color": "black", "strokeWidth": 3}, "encoding": {"y": {"datum": -3}}},
   {"transform": [{"filter": "datum.p == 'e' && datum.y >= -5.52 && datum.s != '-3 dBm'"}], "mark": {"type": "point", "shape": "diamond", "filled": true, "size": 120, "stroke": "#222", "strokeWidth": 0.7, "opacity": 1},
    "encoding": {"x": {"field": "x", "type": "quantitative"}, "y": {"field": "y", "type": "quantitative"}, "color": {"field": "s", "type": "nominal"}}},
   {"transform": [{"filter": "datum.p == 'e' && datum.s == '-3 dBm'"}], "mark": {"type": "point", "shape": "square", "filled": true, "size": 70, "stroke": "#3050b0", "strokeWidth": 0.8, "opacity": 1},
    "encoding": {"x": {"field": "x", "type": "quantitative"}, "y": {"field": "y", "type": "quantitative"}, "color": {"field": "s", "type": "nominal"}}},
   {"data": {"values": [{}]}, "mark": {"type": "text", "fontSize": 17, "align": "left", "baseline": "middle", "font": "Liberation Serif"}, "encoding": {"x": {"datum": 310}, "y": {"datum": -1.87}, "text": {"value": "(e)"}}},
   {"data": {"values": [{}]}, "mark": {"type": "text", "fontSize": 17, "align": "right", "baseline": "middle", "font": "Liberation Serif"}, "encoding": {"x": {"datum": 3680}, "y": {"datum": -5.15}, "text": {"value": "WDM"}}}
  ]},
 {"width": 242, "height": 260,
  "layer": [
   {"transform": [{"filter": "datum.p == 'f'"}], "mark": {"type": "line", "clip": true, "color": "#222", "strokeWidth": 0.8},
    "encoding": {"x": {"field": "x", "type": "quantitative", "scale": {"domain": [140, 4000], "nice": false, "zero": false}, "axis": {"values": [1000, 2000, 3000, 4000], "format": "d", "title": "Transmission Distance [km]", "titlePadding": 0, "grid": true}},
                 "y": {"field": "y", "type": "quantitative", "scale": {"domain": [-5.5, -1.5], "nice": false, "zero": false}, "axis": {"values": [-5.5, -5, -4.5, -4, -3.5, -3, -2.5, -2, -1.5], "tickCount": 20, "format": "~g", "labelOverlap": false, "title": null, "grid": true}},
                 "detail": {"field": "s"}}},
   {"data": {"values": [{}]}, "mark": {"type": "rule", "color": "black", "strokeWidth": 3}, "encoding": {"y": {"datum": -3}}},
   {"transform": [{"filter": "datum.p == 'f' && datum.y >= -5.52"}], "mark": {"type": "point", "shape": "circle", "filled": true, "size": 95, "stroke": "#222", "strokeWidth": 0.7, "opacity": 1},
    "encoding": {"x": {"field": "x", "type": "quantitative"}, "y": {"field": "y", "type": "quantitative"}, "color": {"field": "s", "type": "nominal"}}},
   {"data": {"values": [{}]}, "mark": {"type": "text", "fontSize": 17, "align": "left", "baseline": "middle", "font": "Liberation Serif"}, "encoding": {"x": {"datum": 380}, "y": {"datum": -1.87}, "text": {"value": "(f)"}}},
   {"data": {"values": [{}]}, "mark": {"type": "text", "fontSize": 17, "align": "right", "baseline": "middle", "font": "Liberation Serif"}, "encoding": {"x": {"datum": 3710}, "y": {"datum": -5.15}, "text": {"value": "WDM"}}}
  ]}
], "spacing": 71, "bounds": "flush"}
]
}
